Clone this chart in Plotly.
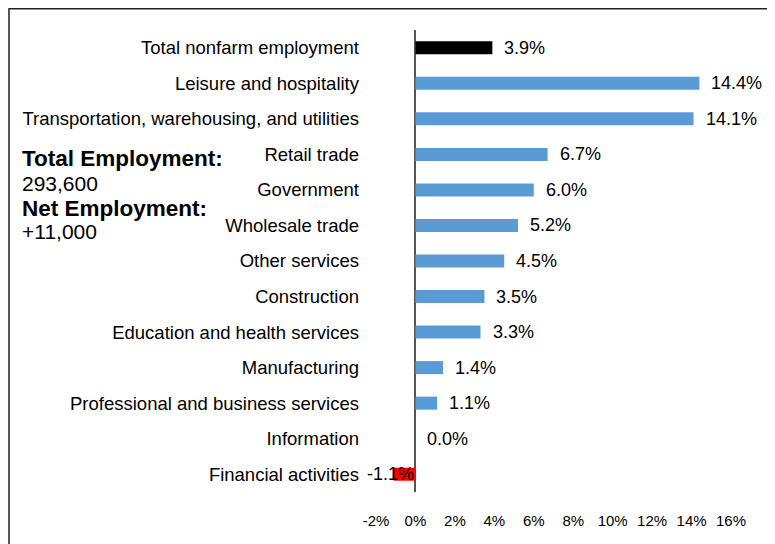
import plotly.graph_objects as go

categories = [
    "Total nonfarm employment",
    "Leisure and hospitality",
    "Transportation, warehousing, and utilities",
    "Retail trade",
    "Government",
    "Wholesale trade",
    "Other services",
    "Construction",
    "Education and health services",
    "Manufacturing",
    "Professional and business services",
    "Information",
    "Financial activities",
]
values = [3.9, 14.4, 14.1, 6.7, 6.0, 5.2, 4.5, 3.5, 3.3, 1.4, 1.1, 0.0, -1.1]
tick_vals = [-2, 0, 2, 4, 6, 8, 10, 12, 14, 16]
tick_text = ["-2%", "0%", "2%", "4%", "6%", "8%", "10%", "12%", "14%", "16%"]
info_lines = [("Total Employment:", True), ("293,600", False),
              ("Net Employment:", True), ("+11,000", False)]

OFF = 8  # page body margin offset in the screenshot
W, H = 775 - OFF, 544 - OFF
ML, MT = 376 - OFF, 30 - OFF
PR, PB = 731 - OFF, 492 - OFF
MR, MB = W - PR, H - PB
PW, PH = W - ML - MR, H - MT - MB

def px_x(p):
    return (p - OFF - ML) / PW

def px_y(p):
    return (H - MB - (p - OFF)) / PH

colors = []
for c, v in zip(categories, values):
    if c == "Total nonfarm employment":
        colors.append("#000000")
    elif v < 0:
        colors.append("#FF0000")
    else:
        colors.append("#5B9BD5")

FONT = "Liberation Sans, Arial, sans-serif"

fig = go.Figure(go.Bar(
    x=values, y=categories, orientation="h",
    marker=dict(color=colors, line=dict(width=0)),
    hoverinfo="skip",
))

annotations = []
for c, v in zip(categories, values):
    annotations.append(dict(
        x=v, y=c, xref="x", yref="y",
        text=f"{v:.1f}%", showarrow=False,
        xanchor="left" if v >= 0 else "right",
        xshift=10 if v >= 0 else 22,
        yanchor="middle",
        font=dict(family=FONT, size=18, color="#000000"),
    ))

info_y = [158, 183, 208, 232]
for (txt, bold), py in zip(info_lines, info_y):
    annotations.append(dict(
        x=px_x(20), y=px_y(py), xref="paper", yref="paper",
        text=f"<b>{txt}</b>" if bold else txt, showarrow=False,
        xanchor="left", yanchor="middle",
        font=dict(family=FONT, size=22.5 if bold else 21, color="#000000"),
    ))

fig.update_layout(
    width=W, height=H,
    margin=dict(l=ML, r=MR, t=MT, b=MB),
    paper_bgcolor="white", plot_bgcolor="white",
    bargap=0.634,
    showlegend=False,
    annotations=annotations,
    shapes=[dict(type="rect", xref="paper", yref="paper",
                 x0=px_x(9), x1=px_x(768), y0=px_y(570), y1=px_y(OFF + 0.75),
                 line=dict(color="#222222", width=1.5), layer="above")],
    xaxis=dict(
        range=[-2, 16], tickvals=tick_vals, ticktext=tick_text,
        showgrid=False, zeroline=True, zerolinecolor="#555555", zerolinewidth=1.5,
        showline=False, ticks="", ticklabelstandoff=18, tickangle=0,
        automargin=False,
        tickfont=dict(family=FONT, size=15, color="#000000"),
    ),
    yaxis=dict(
        autorange="reversed", showgrid=False, zeroline=False, showline=False,
        ticks="", ticklabelstandoff=16, automargin=False,
        tickfont=dict(family=FONT, size=18.5, color="#000000"),
    ),
)

fig.write_html("out.html")
